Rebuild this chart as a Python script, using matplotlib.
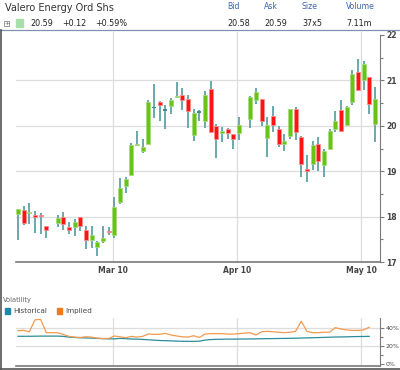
import matplotlib.pyplot as plt
import numpy as np

# --- data -------------------------------------------------------------
# session position on a weekday grid (gaps are sessions with no data)
session = [0, 1, 2, 3, 4, 5, 7, 8, 9, 10, 11, 12, 13, 14, 15, 16, 17, 18, 19,
           20, 21, 22, 23, 24, 25, 26, 27, 28, 29, 30, 31, 32, 33, 34, 35, 36,
           37, 38, 39, 41, 42, 43, 44, 45, 46, 47, 48, 49, 50, 51, 52, 53, 54,
           55, 56, 57, 58, 59, 60, 61, 62, 63]

opens = [18.05, 18.15, 18.07, 18.01, 18.02, 17.79, 17.85, 18.00, 17.78, 17.77,
         18.00, 17.71, 17.49, 17.33, 17.47, 17.66, 17.60, 18.32, 18.68, 18.92,
         19.58, 19.44, 19.61, 20.40, 20.52, 20.35, 20.43, 20.63, 20.67, 20.60,
         19.79, 20.30, 20.11, 20.81, 20.00, 19.84, 19.92, 19.81, 19.85, 20.14,
         20.57, 20.60, 19.73, 20.22, 19.92, 19.60, 19.78, 20.36, 19.76, 19.04,
         19.16, 19.59, 19.14, 19.49, 19.92, 20.35, 20.02, 20.53, 21.18, 21.01,
         21.08, 20.05]
highs = [18.17, 18.23, 18.29, 18.12, 18.09, 17.79, 18.04, 18.10, 17.88, 17.95,
         18.00, 17.79, 17.79, 17.47, 17.79, 17.77, 18.43, 18.84, 18.87, 19.62,
         19.88, 19.70, 20.57, 20.91, 20.55, 20.45, 20.61, 20.97, 20.84, 20.67,
         20.38, 20.35, 20.77, 20.99, 20.05, 19.97, 19.96, 19.81, 20.20, 20.66,
         20.84, 20.60, 20.20, 20.44, 19.99, 19.81, 20.37, 20.41, 19.78, 19.36,
         19.67, 19.75, 19.48, 19.92, 20.33, 20.57, 20.44, 21.23, 21.48, 21.43,
         21.08, 20.85]
lows = [17.49, 17.81, 17.84, 17.64, 17.62, 17.52, 17.77, 17.71, 17.62, 17.57,
        17.69, 17.29, 17.30, 17.13, 17.42, 17.60, 17.52, 18.28, 18.51, 18.92,
        19.56, 19.41, 19.61, 20.18, 20.11, 19.93, 20.27, 20.61, 20.35, 19.96,
        19.66, 20.11, 19.96, 19.84, 19.30, 19.64, 19.71, 19.50, 19.69, 19.96,
        20.47, 20.00, 19.31, 19.86, 19.54, 19.45, 19.70, 19.69, 18.87, 18.77,
        19.03, 19.01, 18.87, 19.49, 19.87, 19.89, 20.02, 20.46, 20.77, 20.79,
        20.27, 19.65]
closes = [18.17, 17.86, 18.11, 18.00, 18.01, 17.71, 17.97, 17.83, 17.70, 17.89,
          17.79, 17.49, 17.60, 17.45, 17.52, 17.65, 18.21, 18.62, 18.82, 19.57,
          19.61, 19.53, 20.52, 20.40, 20.45, 20.35, 20.56, 20.66, 20.56, 20.32,
          20.29, 20.30, 20.68, 19.86, 19.71, 19.89, 19.84, 19.70, 20.02, 20.63,
          20.74, 20.11, 20.02, 20.01, 19.60, 19.67, 20.36, 19.87, 19.15, 19.01,
          19.57, 19.23, 19.45, 19.88, 20.11, 19.89, 20.42, 21.15, 20.79, 21.36,
          20.47, 20.58]

# volatility (%) for the first 61 sessions
hist_vol = [30.6, 30.6, 30.6, 30.7, 30.8, 30.8, 30.8, 30.5, 29.7, 29.3,
            29.0, 28.8, 28.6, 28.3, 28.0, 27.8, 27.8, 28.3, 28.0, 27.6,
            27.5, 27.2, 26.8, 26.4, 26.0, 25.8, 25.6, 25.3, 25.2, 25.1,
            25.1, 25.2, 26.5, 27.0, 27.3, 27.4, 27.5, 27.5, 27.6, 27.7,
            27.8, 27.9, 28.0, 28.1, 28.2, 28.3, 28.4, 28.5, 28.7, 28.9,
            29.0, 29.2, 29.4, 29.6, 29.8, 29.9, 30.0, 30.2, 30.3, 30.4, 30.5]
impl_vol = [36.7, 37.1, 35.5, 48.5, 49.0, 34.5, 34.5, 32.6, 30.5, 29.7,
            29.3, 30.1, 29.7, 28.6, 28.2, 28.2, 30.9, 30.1, 29.0, 30.5,
            29.7, 30.5, 33.1, 32.7, 32.7, 33.8, 32.0, 30.9, 30.1, 29.7,
            31.2, 29.3, 33.0, 33.5, 33.5, 33.5, 33.0, 33.0, 33.5, 34.5,
            32.0, 35.5, 36.0, 35.5, 35.0, 34.5, 35.0, 36.0, 47.0, 36.0,
            34.5, 34.5, 35.0, 35.0, 40.0, 38.5, 37.5, 37.0, 37.0, 37.5, 40.5]

date_pos = [16.7, 38.6, 60.6]
date_labels = ["Mar 10", "Apr 10", "May 10"]
price_ticks = [17, 18, 19, 20, 21, 22]
vol_ticks = [0, 20, 40]

# --- styling ----------------------------------------------------------
W, H = 400, 370
GREEN, GREEN_EDGE = "#68c414", "#a6dc7a"
RED, RED_EDGE = "#ff1414", "#ff8c8c"
TEAL = "#5fa3a6"
GRID = "#dddddd"
AXC = "#7a7a7a"
TXT = "#444444"


def px_axes(fig, x0, y0, x1, y1):
    return fig.add_axes([x0 / W, 1 - y1 / H, (x1 - x0) / W, (y1 - y0) / H])


fig = plt.figure(figsize=(W / 100, H / 100), dpi=100)
fig.patch.set_facecolor("white")

# --- price panel ------------------------------------------------------
ax = px_axes(fig, 16, 35, 380, 262)
x = np.array(session, dtype=float)
o, h, l, c = (np.array(a) for a in (opens, highs, lows, closes))

ax.vlines(x, l, h, color=TEAL, lw=1.3, zorder=2)
up = c > o
dn = c < o
flat = c == o
body = np.maximum(np.abs(c - o), 0.025)
ax.bar(x[up], body[up], bottom=np.minimum(o, c)[up], width=0.72,
       color=GREEN, edgecolor=GREEN_EDGE, lw=0.6, zorder=3)
ax.bar(x[dn], body[dn], bottom=np.minimum(o, c)[dn], width=0.72,
       color=RED, edgecolor=RED_EDGE, lw=0.6, zorder=3)
ax.bar(x[flat], 0.03, bottom=o[flat] - 0.015, width=0.72,
       color="#3f8d92", lw=0, zorder=3)

ax.set_xlim(-0.35, 63.9)
ax.set_ylim(17, 22)
ax.set_yticks(price_ticks)
ax.set_yticks([17.5, 18.5, 19.5, 20.5, 21.5], minor=True)
ax.yaxis.tick_right()
ax.tick_params(axis="y", which="major", length=3, width=0.8, color=AXC,
               labelsize=5.5, labelcolor=TXT, pad=1.5)
ax.tick_params(axis="y", which="minor", length=2, width=0.8, color=AXC)
ax.set_xticks(date_pos)
ax.set_xticklabels(date_labels)
ax.tick_params(axis="x", length=0, labelsize=5.5, labelcolor=TXT, pad=3)
for t in ax.get_xticklabels() + ax.get_yticklabels():
    t.set_fontweight("bold")
for yv in price_ticks[1:-1]:
    ax.axhline(yv, color=GRID, lw=0.9, zorder=1)
for xv in date_pos:
    ax.axvline(xv, color=GRID, lw=0.9, zorder=1, ymax=1.015, clip_on=False)
for s in ("top", "left"):
    ax.spines[s].set_visible(False)
ax.spines["right"].set_color(AXC)
ax.spines["bottom"].set_color(AXC)
ax.spines["bottom"].set_linewidth(1.2)

# --- volatility panel -------------------------------------------------
vx = px_axes(fig, 16, 318, 380, 365.5)
vx.plot(x[:len(hist_vol)], hist_vol, color="#2a8c9c", lw=0.9, zorder=3)
vx.plot(x[:len(impl_vol)], impl_vol, color="#f49a50", lw=0.9, zorder=3)
vx.set_xlim(-0.35, 63.9)
vx.set_ylim(-1.2, 50.5)
vx.set_yticks(vol_ticks)
vx.set_yticklabels([f"{v}%" for v in vol_ticks])
vx.set_yticks([10, 30], minor=True)
vx.yaxis.tick_right()
vx.tick_params(axis="y", which="major", length=3, width=0.8, color=AXC,
               labelsize=4.5, labelcolor=TXT, pad=1)
vx.tick_params(axis="y", which="minor", length=2, width=0.8, color=AXC)
vx.set_xticks([])
for yv in vol_ticks[1:]:
    vx.axhline(yv, color=GRID, lw=0.9, zorder=1)
for xv in date_pos:
    vx.axvline(xv, color=GRID, lw=0.9, zorder=1)
for s in ("top", "left"):
    vx.spines[s].set_visible(False)
vx.spines["right"].set_color(AXC)
vx.spines["bottom"].set_color(AXC)
vx.spines["bottom"].set_linewidth(1.2)


def ftext(px, py, s, **kw):
    fig.text(px / W, 1 - py / H, s, **kw)


ftext(3, 300, "Volatility", fontsize=4.8, color="#666666", va="center")
fig.patches.append(plt.Rectangle((5 / W, 1 - 313.5 / H), 5 / W, 5.5 / H,
                                 transform=fig.transFigure, color="#1f88a8"))
ftext(13, 311, "Historical", fontsize=5.2, color=TXT, va="center")
fig.patches.append(plt.Rectangle((57 / W, 1 - 313.5 / H), 5 / W, 5.5 / H,
                                 transform=fig.transFigure, color="#f07a20"))
ftext(65, 311, "Implied", fontsize=5.2, color=TXT, va="center")

# --- header -----------------------------------------------------------
ftext(5, 8, "Valero Energy Ord Shs", fontsize=7.0, color="#333333", va="center")
BLUE = "#3a64b0"
for lx, lab, val in [(227, "Bid", "20.58"), (264, "Ask", "20.59"),
                     (302, "Size", "37x5"), (346, "Volume", "7.11m")]:
    ftext(lx, 6.5, lab, fontsize=5.6, color=BLUE, va="center")
    ftext(lx, 23, val, fontsize=5.8, color="#222222", va="center")
ftext(30, 23, "20.59", fontsize=5.8, color="#222222", va="center")
ftext(62, 23, "+0.12", fontsize=5.8, color="#222222", va="center")
ftext(95, 23, "+0.59%", fontsize=5.8, color="#222222", va="center")
fig.patches.append(plt.Rectangle((4 / W, 1 - 26 / H), 5 / W, 5 / H,
                                 transform=fig.transFigure, fill=False,
                                 ec="#888888", lw=0.6))
ftext(6.5, 23.3, "+", fontsize=4.5, color="#555555", ha="center", va="center")
fig.patches.append(plt.Rectangle((16 / W, 1 - 26.5 / H), 6.5 / W, 7 / H,
                                 transform=fig.transFigure, color="#a8dfa8"))

# separators / frame
fig.add_artist(plt.Line2D([0, 1], [1 - 29.8 / H] * 2, color="#8090b4", lw=0.9))
fig.add_artist(plt.Line2D([0.6 / W] * 2, [1 - 30 / H, 1 - 369 / H],
                          color="#555555", lw=1.2))
fig.add_artist(plt.Line2D([0, 1], [1 - 368.6 / H] * 2, color="#555555", lw=1.2))

fig.savefig("out.png", dpi=100)
